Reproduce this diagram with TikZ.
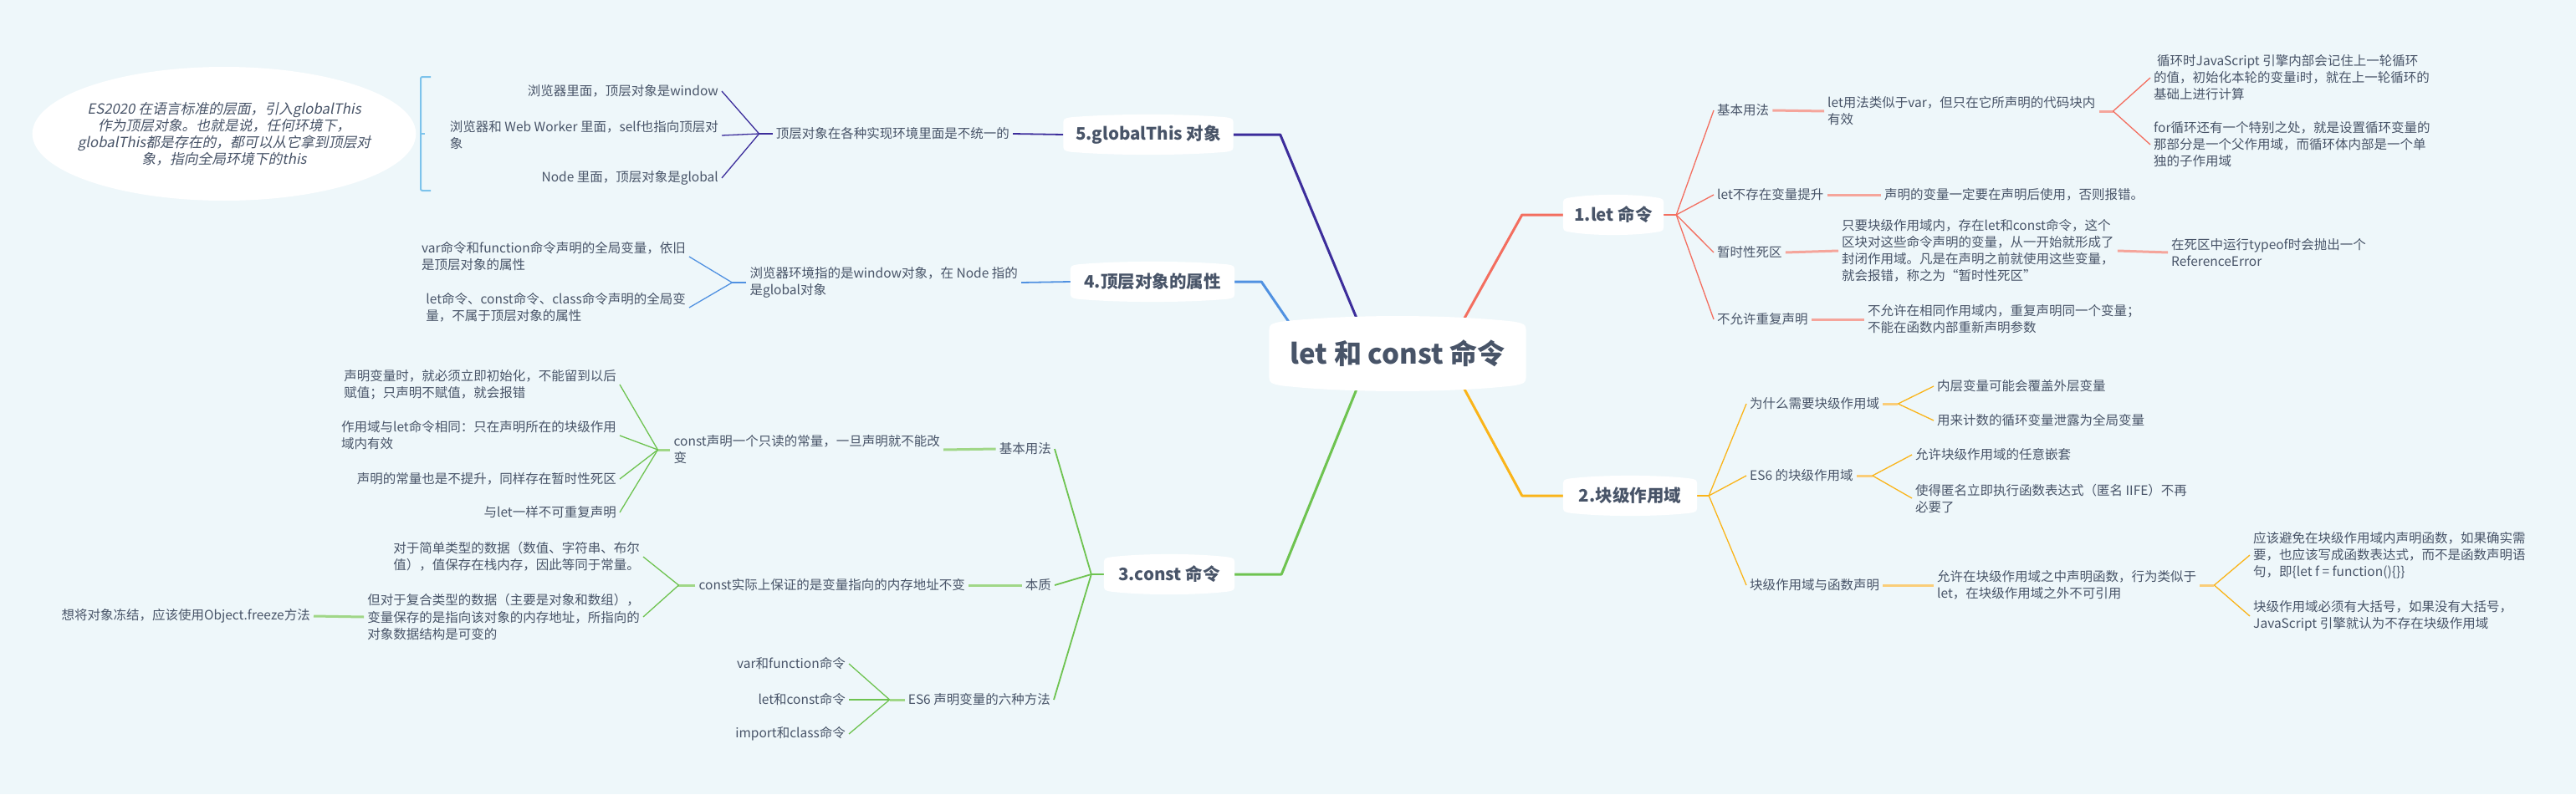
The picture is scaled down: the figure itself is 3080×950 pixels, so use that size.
\documentclass[tikz,border=0pt]{standalone}
\usepackage{fontspec}
\setmainfont{Noto Sans CJK SC}
\newfontfamily\slantcjk[FakeSlant=0.2]{Noto Sans CJK SC}
\usetikzlibrary{calc,shapes.geometric}
\definecolor{bgc}{RGB}{238,247,250}
\definecolor{txt}{RGB}{72,84,104}
\definecolor{cpur}{RGB}{60,45,155}
\definecolor{cblu}{RGB}{80,145,225}
\definecolor{cgrn}{RGB}{110,195,80}
\definecolor{cgrnl}{RGB}{160,215,135}
\definecolor{cred}{RGB}{243,110,95}
\definecolor{credl}{RGB}{245,165,155}
\definecolor{cyel}{RGB}{250,180,25}
\definecolor{cyell}{RGB}{250,205,120}
\definecolor{cbrk}{RGB}{125,195,235}
\pgfdeclarelayer{bg}\pgfdeclarelayer{lines}\pgfdeclarelayer{shapes}
\pgfsetlayers{bg,lines,shapes,main}
\newcommand\fs{\fontsize{15.5}{20}\selectfont}
\newcommand\fe{\fontsize{16.8}{20}\selectfont}
\newcommand\fm{\fontsize{20.5}{24}\selectfont\bfseries}
\newcommand\fc{\fontsize{33}{38}\selectfont\bfseries}
\newcommand\bubblebg[3]{%
\begin{pgfonlayer}{shapes}
\fill[white] let \p1=(#1.north west), \p2=(#1.south east) in
 (\x1,\y1-#3) .. controls (\x1,\y1) .. (\x1+#3,\y1+0.25*#2)
 .. controls ({\x1+0.3*(\x2-\x1)},\y1+#2) and ({\x2-0.3*(\x2-\x1)},\y1+#2) .. (\x2-#3,\y1+0.25*#2)
 .. controls (\x2,\y1) .. (\x2,\y1-#3)
 -- (\x2,\y2+#3)
 .. controls (\x2,\y2) .. (\x2-#3,\y2-0.25*#2)
 .. controls ({\x2-0.3*(\x2-\x1)},\y2-#2) and ({\x1+0.3*(\x2-\x1)},\y2-#2) .. (\x1+#3,\y2-0.25*#2)
 .. controls (\x1,\y2) .. (\x1,\y2+#3) -- cycle;
\end{pgfonlayer}}
\begin{document}
\begin{tikzpicture}[x=1pt,y=-1pt,
 leaf/.style={font=\fs, text=txt, inner xsep=4pt, inner ysep=2pt, align=left},
 lft/.style={leaf, anchor=east},
 rgt/.style={leaf, anchor=west},
 topic/.style={font=\fm, text=txt, minimum height=38pt, inner sep=0pt},
 l1/.style={line width=3pt, line join=round},
 stub/.style={line width=3pt},
 thin/.style={line width=1.3pt},
 mid/.style={line width=1.8pt}]
\begin{pgfonlayer}{bg}
\fill[bgc] (0,0) rectangle (3080,950);
\end{pgfonlayer}
\useasboundingbox (0,0) rectangle (3080,950);

% central
\node[font=\fc, text=txt, minimum width=307pt, minimum height=70pt, inner sep=0pt] (c) at (1671,423) {let 和 const 命令};
\bubblebg{c}{12pt}{14pt}

% level 1
\node[topic, minimum width=203pt] (n5) at (1373,161) {5.globalThis 对象};
\node[topic, minimum width=196pt] (n4) at (1378,337) {4.顶层对象的属性};
\node[topic, minimum width=156pt] (n3) at (1398,687) {3.const 命令};
\node[topic, minimum width=120pt] (n1) at (1929,257) {1.let 命令};
\node[topic, minimum width=160pt] (n2) at (1949,593) {2.块级作用域};
\bubblebg{n5}{6pt}{9pt}
\bubblebg{n4}{6pt}{9pt}
\bubblebg{n3}{6pt}{9pt}
\bubblebg{n1}{6pt}{9pt}
\bubblebg{n2}{6pt}{9pt}

% branch 5
\node[ellipse, fill=white, minimum width=428pt, minimum height=160pt, inner xsep=-13pt, inner ysep=0pt, font=\slantcjk\fe, text=txt, align=center] (sum) at (268,160) {ES2020 在语言标准的层面，引入globalThis\\作为顶层对象。也就是说，任何环境下，\\globalThis都是存在的，都可以从它拿到顶层对\\象，指向全局环境下的this};
\node[lft] (n5a) at (1211,160) {顶层对象在各种实现环境里面是不统一的};
\node[lft] (n5a1) at (863,109) {浏览器里面，顶层对象是window};
\node[lft] (n5a2) at (863,162) {浏览器和 Web Worker 里面，self也指向顶层对\\象};
\node[lft] (n5a3) at (863,213) {Node 里面，顶层对象是global};

% branch 4
\node[lft] (n4a) at (1221,338) {浏览器环境指的是window对象，在 Node 指的\\是global对象};
\node[lft] (n4a1) at (824,307) {var命令和function命令声明的全局变量，依旧\\是顶层对象的属性};
\node[lft] (n4a2) at (824,368) {let命令、const命令、class命令声明的全局变\\量，不属于顶层对象的属性};

% branch 3
\node[lft] (n3a) at (1261,537) {基本用法};
\node[lft] (n3b) at (1261,700) {本质};
\node[lft] (n3c) at (1260,837) {ES6 声明变量的六种方法};
\node[lft] (n3a1) at (1128,538) {const声明一个只读的常量，一旦声明就不能改\\变};
\node[lft] (n3a1a) at (741,460) {声明变量时，就必须立即初始化，不能留到以后\\赋值；只声明不赋值，就会报错};
\node[lft] (n3a1b) at (741,521) {作用域与let命令相同：只在声明所在的块级作用\\域内有效};
\node[lft] (n3a1c) at (741,573) {声明的常量也是不提升，同样存在暂时性死区};
\node[lft] (n3a1d) at (741,613) {与let一样不可重复声明};
\node[lft] (n3b1) at (1158,700) {const实际上保证的是变量指向的内存地址不变};
\node[lft] (n3b1a) at (769,666) {对于简单类型的数据（数值、字符串、布尔\\值），值保存在栈内存，因此等同于常量。};
\node[lft] (n3b1b) at (769,738) {但对于复合类型的数据（主要是对象和数组），\\变量保存的是指向该对象的内存地址，所指向的\\对象数据结构是可变的};
\node[lft] (n3b1b1) at (375,737) {想将对象冻结，应该使用Object.freeze方法};
\node[lft] (n3c1) at (1015,794) {var和function命令};
\node[lft] (n3c2) at (1015,837) {let和const命令};
\node[lft] (n3c3) at (1015,878) {import和class命令};

% branch 1
\node[rgt] (n1a) at (2049,132) {基本用法};
\node[rgt] (n1b) at (2049,233) {let不存在变量提升};
\node[rgt] (n1c) at (2049,302) {暂时性死区};
\node[rgt] (n1d) at (2049,382) {不允许重复声明};
\node[rgt] (n1a1) at (2181,133) {let用法类似于var，但只在它所声明的代码块内\\有效};
\node[rgt] (n1a1a) at (2571,93) {\hspace{4pt}循环时JavaScript 引擎内部会记住上一轮循环\\的值，初始化本轮的变量i时，就在上一轮循环的\\基础上进行计算};
\node[rgt] (n1a1b) at (2571,173) {for循环还有一个特别之处，就是设置循环变量的\\那部分是一个父作用域，而循环体内部是一个单\\独的子作用域};
\node[rgt] (n1b1) at (2249,233) {声明的变量一定要在声明后使用，否则报错。};
\node[rgt] (n1c1) at (2198,300) {只要块级作用域内，存在let和const命令，这个\\区块对这些命令声明的变量，从一开始就形成了\\封闭作用域。凡是在声明之前就使用这些变量，\\就会报错，称之为“暂时性死区”};
\node[rgt] (n1c1a) at (2592,302) {在死区中运行typeof时会抛出一个\\ReferenceError};
\node[rgt] (n1d1) at (2229,382) {不允许在相同作用域内，重复声明同一个变量；\\不能在函数内部重新声明参数};

% branch 2
\node[rgt] (n2a) at (2088,483) {为什么需要块级作用域};
\node[rgt] (n2b) at (2088,569) {ES6 的块级作用域};
\node[rgt] (n2c) at (2088,700) {块级作用域与函数声明};
\node[rgt] (n2a1) at (2312,462) {内层变量可能会覆盖外层变量};
\node[rgt] (n2a2) at (2312,503) {用来计数的循环变量泄露为全局变量};
\node[rgt] (n2b1) at (2286,544) {允许块级作用域的任意嵌套};
\node[rgt] (n2b2) at (2286,596) {使得匿名立即执行函数表达式（匿名 IIFE）不再\\必要了};
\node[rgt] (n2c1) at (2312,700) {允许在块级作用域之中声明函数，行为类似于\\let，在块级作用域之外不可引用};
\node[rgt] (n2c1a) at (2690,664) {应该避免在块级作用域内声明函数，如果确实需\\要，也应该写成函数表达式，而不是函数声明语\\句，即\{let f = function()\{\}\}};
\node[rgt] (n2c1b) at (2690,737) {块级作用域必须有大括号，如果没有大括号，\\JavaScript 引擎就认为不存在块级作用域};

\begin{pgfonlayer}{lines}
% branch 5
\coordinate (c5) at ($(c.north)+(-46,0)$);
\draw[l1,cpur] (c5) -- ($(n5.east)+(56,0)$) -- (n5.east);
\draw[mid,cpur] (n5.west) -- (n5a.east);
\coordinate (f5) at ($(n5a.west)+(-16,0)$);
\draw[mid,cpur] (n5a.west) -- (f5);
\foreach \k in {n5a1,n5a2,n5a3} \draw[thin,cpur] (f5) -- (\k.east);
\draw[cbrk,line width=2pt,rounded corners=2pt] (515,92) -- (503,92) -- (503,228) -- (515,228);
\coordinate (brk) at (503,160);
\draw[cbrk,line width=2pt] (brk) -- ($(sum.east)+(10,0)$);
% branch 4
\coordinate (c4) at ($(c.north west)+(29,5)$);
\draw[l1,cblu] (c4) -- ($(n4.east)+(32,0)$) -- (n4.east);
\draw[mid,cblu] (n4.west) -- (n4a.east);
\coordinate (f4) at ($(n4a.west)+(-17,0)$);
\draw[mid,cblu] (n4a.west) -- (f4);
\foreach \k in {n4a1,n4a2} \draw[thin,cblu] (f4) -- (\k.east);
% branch 3
\coordinate (c3) at ($(c.south)+(-46,0)$);
\draw[l1,cgrn] (c3) -- ($(n3.east)+(56,0)$) -- (n3.east);
\coordinate (f3) at ($(n3.west)+(-15,0)$);
\draw[mid,cgrn] (n3.west) -- (f3);
\foreach \k in {n3a,n3b,n3c} \draw[mid,cgrn] (f3) -- (\k.east);
\draw[stub,cgrnl] (n3a.west) -- (n3a1.east);
\coordinate (f3a) at ($(n3a1.west)+(-15,0)$);
\draw[stub,cgrnl] (n3a1.west) -- (f3a);
\foreach \k in {n3a1a,n3a1b,n3a1c,n3a1d} \draw[thin,cgrn] (f3a) -- (\k.east);
\draw[stub,cgrnl] (n3b.west) -- (n3b1.east);
\coordinate (f3b) at ($(n3b1.west)+(-20,0)$);
\draw[stub,cgrnl] (n3b1.west) -- (f3b);
\foreach \k in {n3b1a,n3b1b} \draw[thin,cgrn] (f3b) -- (\k.east);
\draw[stub,cgrnl] (n3b1b.west) -- (n3b1b1.east);
\coordinate (f3c) at ($(n3c.west)+(-18,0)$);
\draw[stub,cgrnl] (n3c.west) -- (f3c);
\foreach \k in {n3c1,n3c2,n3c3} \draw[thin,cgrn] (f3c) -- (\k.east);
% branch 1
\coordinate (c1) at ($(c.north)+(76,0)$);
\draw[l1,cred] (c1) -- ($(n1.west)+(-49,0)$) -- (n1.west);
\coordinate (f1) at ($(n1.east)+(15,0)$);
\draw[mid,cred] (n1.east) -- (f1);
\foreach \k in {n1a,n1b,n1c,n1d} \draw[thin,cred] (f1) -- (\k.west);
\draw[stub,credl] (n1a.east) -- (n1a1.west);
\coordinate (f1a) at ($(n1a1.east)+(17,0)$);
\draw[stub,credl] (n1a1.east) -- (f1a);
\foreach \k in {n1a1a,n1a1b} \draw[thin,cred] (f1a) -- (\k.west);
\draw[stub,credl] (n1b.east) -- (n1b1.west);
\draw[stub,credl] (n1c.east) -- (n1c1.west);
\draw[stub,credl] (n1c1.east) -- (n1c1a.west);
\draw[stub,credl] (n1d.east) -- (n1d1.west);
% branch 2
\coordinate (c2) at ($(c.south)+(76,0)$);
\draw[l1,cyel] (c2) -- ($(n2.west)+(-49,0)$) -- (n2.west);
\coordinate (f2) at ($(n2.east)+(14,0)$);
\draw[mid,cyel] (n2.east) -- (f2);
\foreach \k in {n2a,n2b,n2c} \draw[thin,cyel] (f2) -- (\k.west);
\coordinate (f2a) at ($(n2a.east)+(18,0)$);
\draw[stub,cyell] (n2a.east) -- (f2a);
\foreach \k in {n2a1,n2a2} \draw[thin,cyel] (f2a) -- (\k.west);
\coordinate (f2b) at ($(n2b.east)+(19,0)$);
\draw[stub,cyell] (n2b.east) -- (f2b);
\foreach \k in {n2b1,n2b2} \draw[thin,cyel] (f2b) -- (\k.west);
\draw[stub,cyell] (n2c.east) -- (n2c1.west);
\coordinate (f2c) at ($(n2c1.east)+(17,0)$);
\draw[stub,cyell] (n2c1.east) -- (f2c);
\foreach \k in {n2c1a,n2c1b} \draw[thin,cyel] (f2c) -- (\k.west);
\end{pgfonlayer}
\end{tikzpicture}
\end{document}
